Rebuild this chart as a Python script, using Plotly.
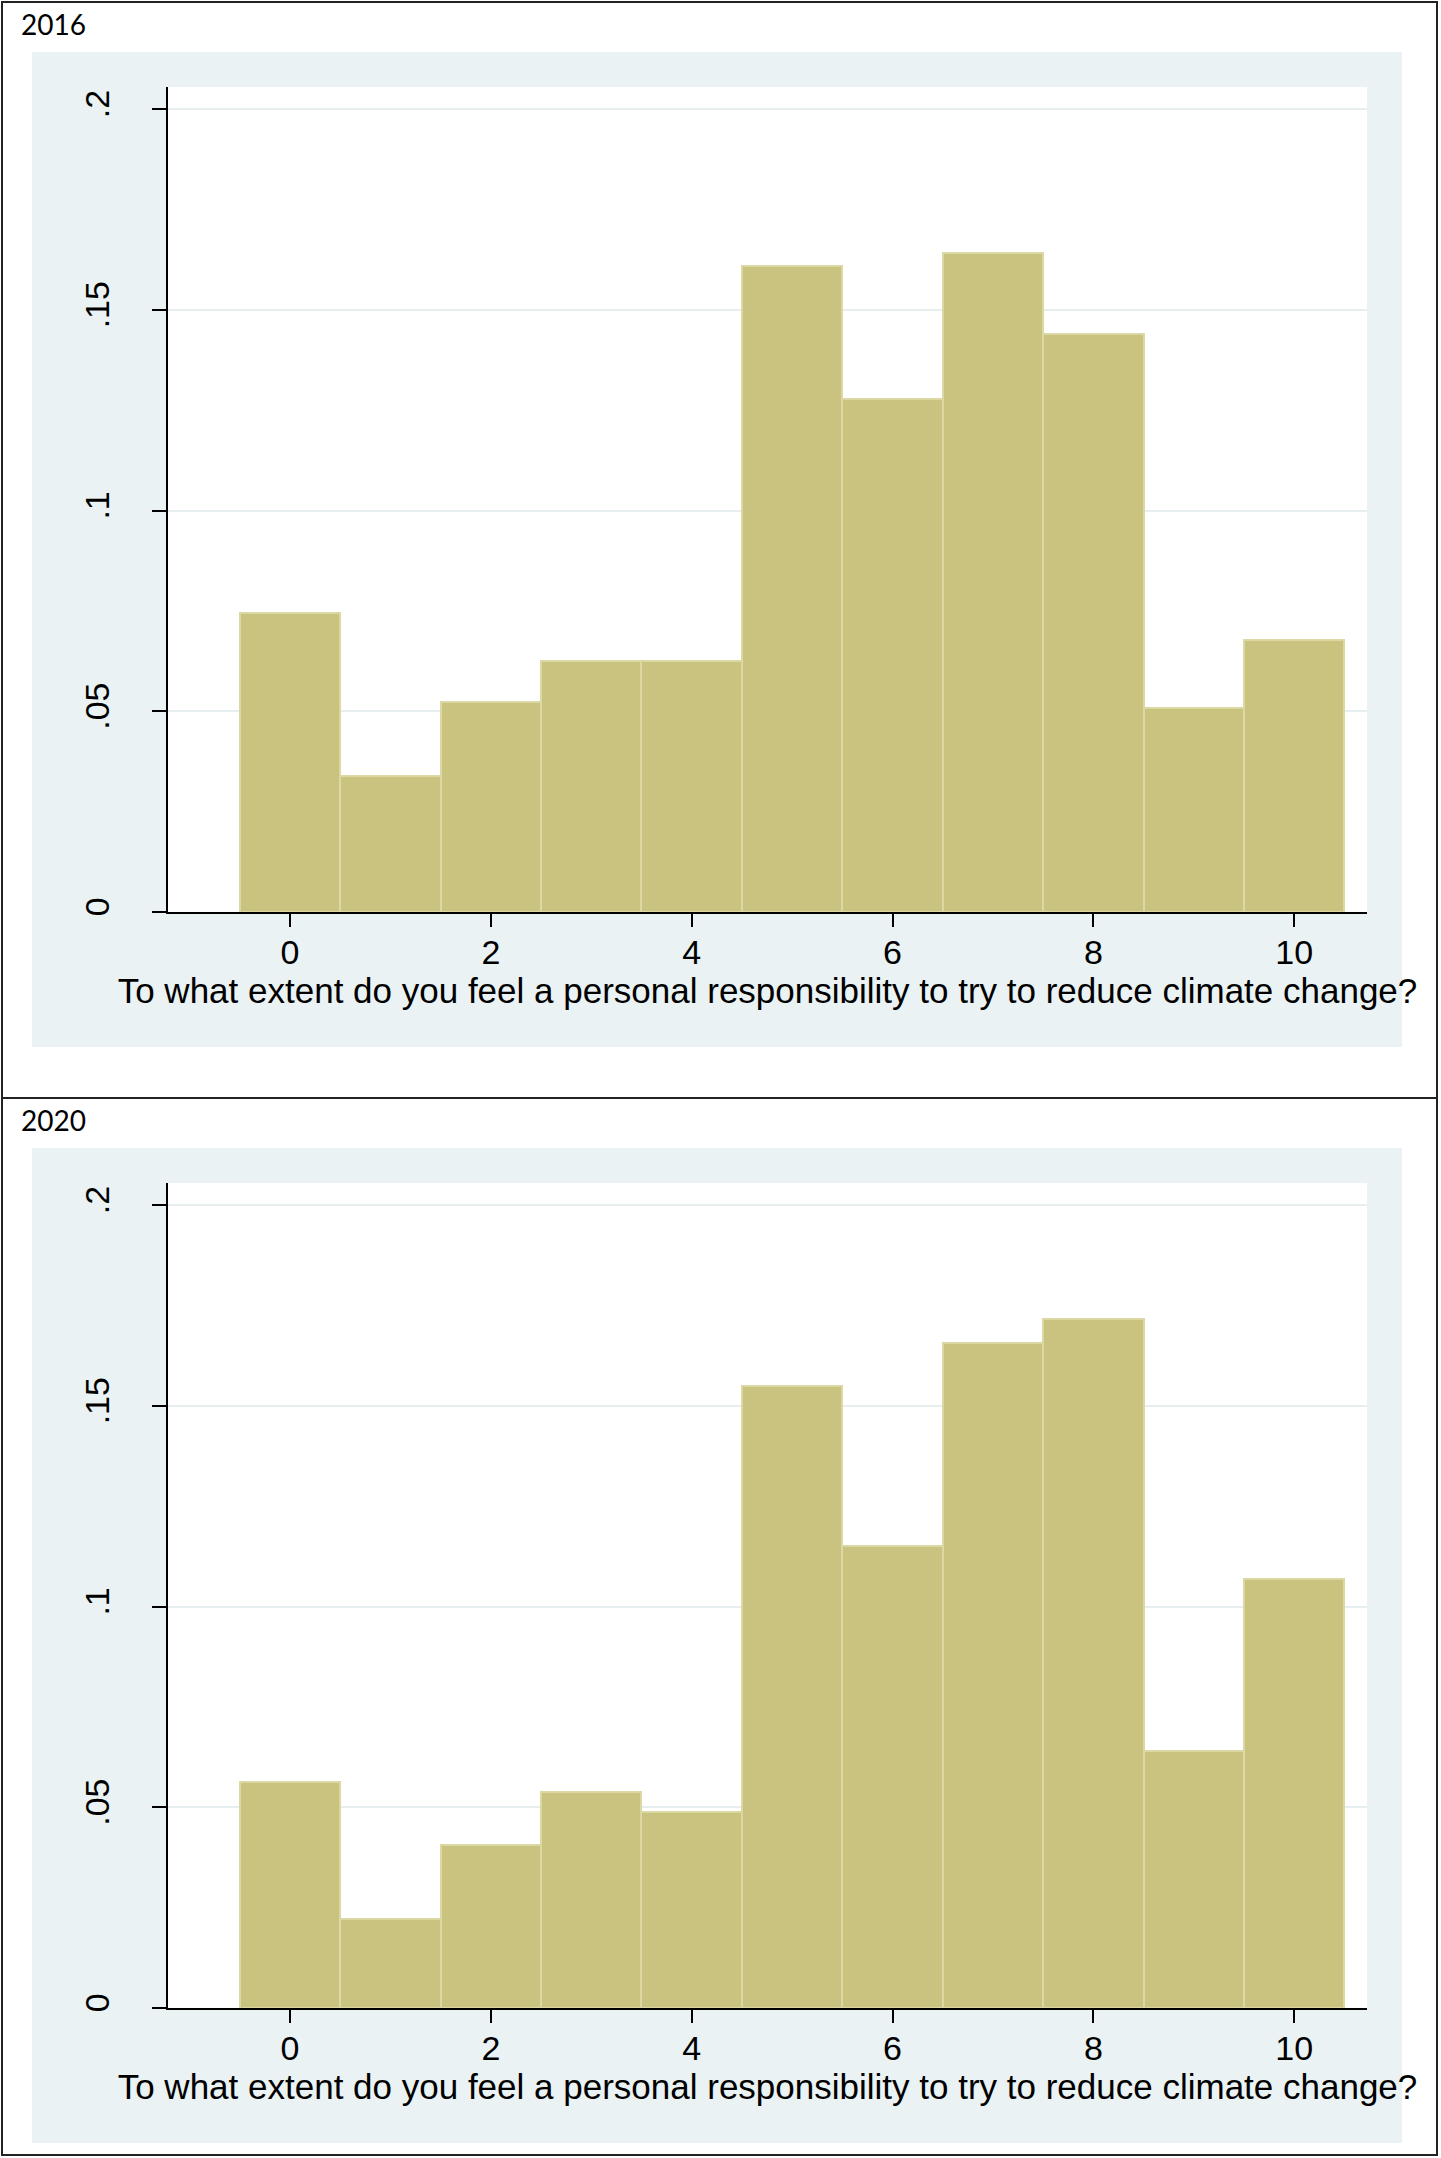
import plotly.graph_objects as go

# ---------------- data ----------------
scores = [0, 1, 2, 3, 4, 5, 6, 7, 8, 9, 10]
share_2016 = [0.0746, 0.0338, 0.0522, 0.0626, 0.0626, 0.1610, 0.1279, 0.1641, 0.1440, 0.0507, 0.0678]
share_2020 = [0.0562, 0.0221, 0.0407, 0.0537, 0.0489, 0.1549, 0.1151, 0.1656, 0.1717, 0.0641, 0.1069]
years = ["2016", "2020"]
x_tickvals = [0, 2, 4, 6, 8, 10]
x_ticktext = ["0", "2", "4", "6", "8", "10"]
y_tickvals = [0, 0.05, 0.1, 0.15, 0.2]
y_ticktext = ["0", ".05", ".1", ".15", ".2"]
x_title = "To what extent do you feel a personal responsibility to try to reduce climate change?"

# ---------------- styling / layout ----------------
W, H = 1441, 2158
BAR_FILL = "#C9C37F"
BAR_LINE = "#DCD8A3"
PANEL = "#EAF2F3"
GRID = "#E6EEF0"
FONT = "Liberation Sans, Arial, sans-serif"


def px(x):
    return x / W


def py(y):
    return 1 - y / H


# pixel geometry per sub-figure (top offsets)
offsets = [0, 1096]
box_bottoms = [1098, 2155]

fig = go.Figure()
shapes = []
annotations = []
layout_axes = {}

for i, (year, vals) in enumerate(zip(years, [share_2016, share_2020])):
    o = offsets[i]
    xa = "x" if i == 0 else f"x{i+1}"
    ya = "y" if i == 0 else f"y{i+1}"
    fig.add_trace(go.Bar(
        x=scores, y=vals, width=1.0,
        marker=dict(color=BAR_FILL, line=dict(color=BAR_LINE, width=2)),
        xaxis=xa, yaxis=ya, showlegend=False, hoverinfo="x+y",
    ))
    # outer box
    shapes.append(dict(type="rect", xref="paper", yref="paper",
                       x0=px(2), x1=px(1437), y0=py(box_bottoms[i]), y1=py(2 + o),
                       line=dict(color="#222222", width=2), fillcolor="rgba(0,0,0,0)",
                       layer="above"))
    # light graph region
    shapes.append(dict(type="rect", xref="paper", yref="paper",
                       x0=px(32), x1=px(1402), y0=py(1047 + o), y1=py(52 + o),
                       line=dict(width=0), fillcolor=PANEL, layer="below"))
    # white plot region
    shapes.append(dict(type="rect", xref="paper", yref="paper",
                       x0=px(168), x1=px(1367), y0=py(912 + o), y1=py(87 + o),
                       line=dict(width=0), fillcolor="white", layer="below"))
    annotations.append(dict(text=year, xref="paper", yref="paper",
                            x=px(19), y=py(24 + o), xanchor="left", yanchor="middle",
                            showarrow=False, font=dict(family="Lato, Carlito, sans-serif", size=28, color="black")))

    xkey = "xaxis" if i == 0 else f"xaxis{i+1}"
    ykey = "yaxis" if i == 0 else f"yaxis{i+1}"
    layout_axes[xkey] = dict(
        domain=[px(168), px(1367)], anchor=ya, range=[-1.215, 10.725],
        tickmode="array", tickvals=x_tickvals, ticktext=x_ticktext,
        ticks="outside", ticklen=13, tickwidth=1.5, tickcolor="black",
        showline=True, linecolor="black", linewidth=1.5,
        showgrid=False, zeroline=False,
        tickfont=dict(family=FONT, size=34, color="black"),
        ticklabelstandoff=-4,
        title=dict(text=x_title, font=dict(family=FONT, size=35, color="black"), standoff=0),
        automargin=False, fixedrange=True,
    )
    layout_axes[ykey] = dict(
        domain=[py(912 + o), py(87 + o)], anchor=xa, range=[0, 0.2055],
        tickmode="array", tickvals=y_tickvals, ticktext=y_ticktext,
        ticks="outside", ticklen=14, tickwidth=1.5, tickcolor="black",
        showline=True, linecolor="black", linewidth=1.5,
        showgrid=True, gridcolor=GRID, gridwidth=2, zeroline=False,
        tickangle=-90, ticklabelstandoff=30,
        tickfont=dict(family=FONT, size=34, color="black"),
        automargin=False, fixedrange=True,
    )

fig.update_layout(
    template="none",
    width=W, height=H,
    margin=dict(l=0, r=0, t=0, b=0),
    paper_bgcolor="white",
    plot_bgcolor="rgba(0,0,0,0)",
    bargap=0,
    shapes=shapes,
    annotations=annotations,
    showlegend=False,
    **layout_axes,
)

fig.write_html(
    "out.html",
    config={"displayModeBar": False, "staticPlot": False},
    post_script="document.body.style.margin='0';document.body.style.overflow='hidden';",
)
